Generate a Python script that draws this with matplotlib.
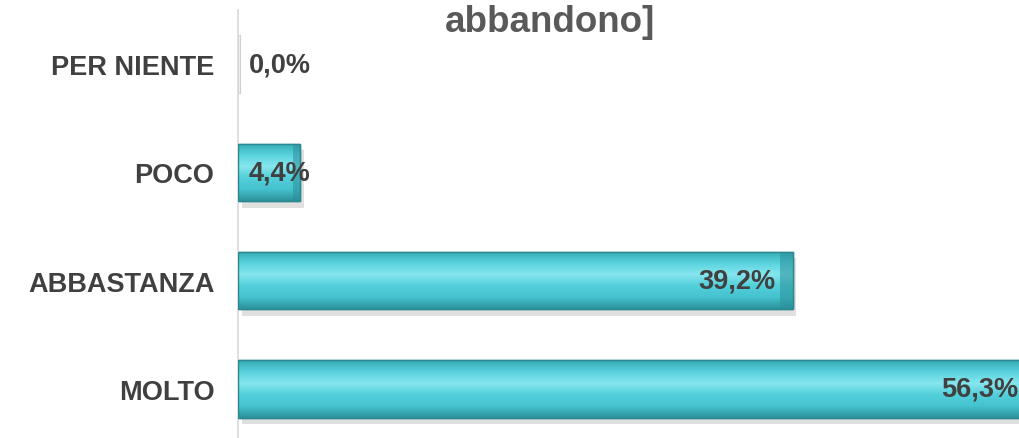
import matplotlib
matplotlib.use("Agg")
import matplotlib.pyplot as plt
import numpy as np
from matplotlib.colors import LinearSegmentedColormap

plt.rcParams['font.family'] = ['Liberation Sans', 'DejaVu Sans']

categories = ['PER NIENTE', 'POCO', 'ABBASTANZA', 'MOLTO']
values = [0.0, 4.4, 39.2, 56.3]
title = 'abbandono]'

fig = plt.figure(figsize=(10.2, 4.39), dpi=100)
ax = fig.add_axes([238 / 1020, -5 / 439, 797 / 1020, 433 / 439])

ypos = np.arange(len(categories))
bar_h = 0.53

# vertical gradient used as bevel on each bar
bevel = LinearSegmentedColormap.from_list(
    'bevel', ['#35a9b3', '#5ad3de', '#86e6ee', '#52cfda', '#45c3ce', '#2c939d'])
grad = np.linspace(0, 1, 64).reshape(-1, 1)

for y, v in zip(ypos, values):
    # soft shadow
    ax.barh(y + 0.06, v, height=bar_h, left=0.25, color='#000000', alpha=0.12, zorder=1)
    bars = ax.barh(y, v, height=bar_h, color='#4ccbd6', edgecolor='#2b8890',
                   linewidth=1.0, zorder=2)
    if v > 0:
        im = ax.imshow(grad, cmap=bevel, aspect='auto', zorder=3,
                       extent=[0, v, y + bar_h / 2, y - bar_h / 2])
        im.set_clip_path(bars[0])
        # darker right end cap
        cap = min(0.9, v * 0.12)
        ax.barh(y, cap, height=bar_h, left=v - cap,
                color='#2a8f99', alpha=0.55, zorder=4, linewidth=0)
        ax.barh(y, v, height=bar_h, color='none', edgecolor='#2b8890',
                linewidth=1.0, zorder=5)
    else:
        ax.barh(y, 0.15, height=bar_h, color='#f2f2f2', edgecolor='#d0d0d0',
                linewidth=0.8, zorder=2)

    label = f'{v:.1f}%'.replace('.', ',')
    if v > 10:
        ax.text(v - 1.2, y, label, ha='right', va='center', fontsize=19.5,
                fontweight='bold', color='#404040', zorder=6)
    else:
        ax.text(0.75, y, label, ha='left', va='center', fontsize=19.5,
                fontweight='bold', color='#404040', zorder=6)

ax.set_xlim(0, 56.3)
ax.set_ylim(3.5, -0.5)
ax.set_yticks(ypos)
ax.set_yticklabels(categories, fontsize=19.5, fontweight='bold', color='#404040')
ax.tick_params(axis='y', length=0, pad=17)
ax.set_xticks([])
for s in ['top', 'right', 'bottom']:
    ax.spines[s].set_visible(False)
ax.spines['left'].set_color('#d9d9d9')
ax.spines['left'].set_linewidth(1.2)

fig.text(550 / 1020, 1 - 22 / 439, title, ha='center', va='center',
         fontsize=26.5, fontweight='bold', color='#595959')

fig.savefig('out.png', dpi=100)
